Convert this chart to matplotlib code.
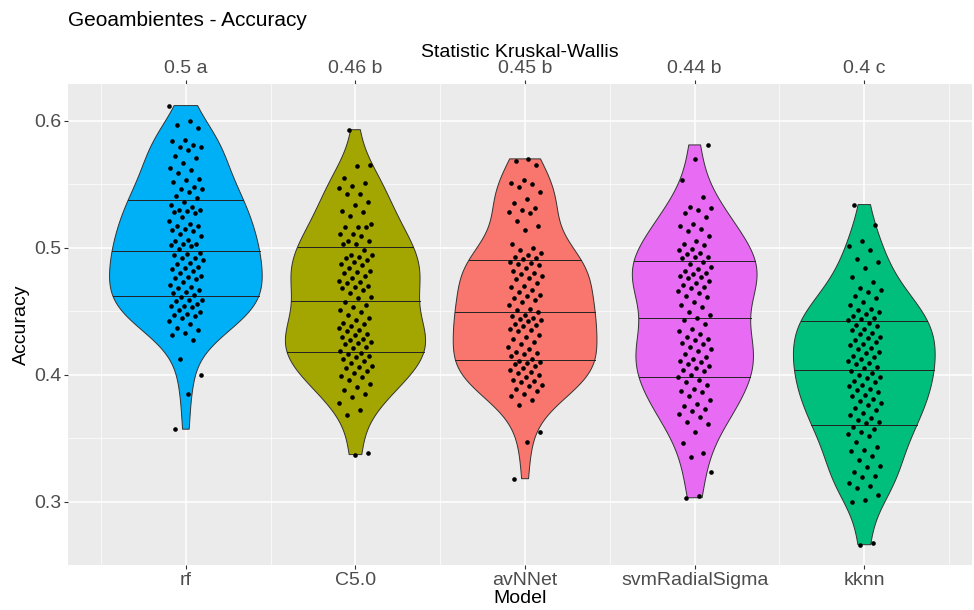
import numpy as np
import matplotlib.pyplot as plt
from matplotlib.ticker import FixedLocator

plt.rcParams['font.family'] = ['Liberation Sans', 'DejaVu Sans']

# 모델 / 색 / Kruskal-Wallis 라벨
models = ['rf', 'C5.0', 'avNNet', 'svmRadialSigma', 'kknn']
kw_labels = ['0.5 a', '0.46 b', '0.45 b', '0.44 b', '0.4 c']
colors = ['#00B0F6', '#A3A500', '#F8766D', '#E76BF3', '#00BF7D']

acc_rf = [0.612, 0.600, 0.597, 0.594, 0.585, 0.584, 0.581, 0.579, 0.579, 0.577,
          0.572, 0.571, 0.567, 0.563, 0.561, 0.559, 0.554, 0.553, 0.552, 0.548,
          0.546, 0.546, 0.544, 0.541, 0.539,
          0.536, 0.534, 0.532, 0.530, 0.530, 0.529, 0.528, 0.527, 0.524, 0.521,
          0.519, 0.517, 0.517, 0.515, 0.514, 0.513, 0.511, 0.509, 0.506, 0.505,
          0.503, 0.503, 0.502, 0.501, 0.499,
          0.496, 0.495, 0.494, 0.492, 0.492, 0.490, 0.488, 0.487, 0.485, 0.484,
          0.483, 0.482, 0.480, 0.478, 0.477, 0.476, 0.475, 0.473, 0.471, 0.469,
          0.468, 0.467, 0.465, 0.464, 0.463,
          0.461, 0.459, 0.459, 0.458, 0.456, 0.454, 0.454, 0.453, 0.451, 0.449,
          0.448, 0.447, 0.446, 0.445, 0.442, 0.440, 0.437, 0.435, 0.433, 0.431,
          0.427, 0.412, 0.400, 0.385, 0.357]

acc_c50 = [0.593, 0.565, 0.564, 0.555, 0.551, 0.549, 0.547, 0.542, 0.542, 0.536,
           0.534, 0.529, 0.528, 0.525, 0.519, 0.516, 0.516, 0.516, 0.511, 0.511,
           0.509, 0.505, 0.505, 0.503, 0.503,
           0.498, 0.494, 0.494, 0.493, 0.492, 0.490, 0.489, 0.487, 0.486, 0.484,
           0.482, 0.481, 0.480, 0.478, 0.476, 0.474, 0.473, 0.472, 0.470, 0.469,
           0.468, 0.467, 0.464, 0.461, 0.460,
           0.457, 0.455, 0.453, 0.451, 0.449, 0.447, 0.445, 0.443, 0.441, 0.440,
           0.438, 0.437, 0.435, 0.434, 0.432, 0.431, 0.430, 0.428, 0.427, 0.426,
           0.425, 0.424, 0.422, 0.421, 0.419,
           0.417, 0.416, 0.415, 0.414, 0.412, 0.411, 0.409, 0.407, 0.406, 0.405,
           0.403, 0.401, 0.399, 0.398, 0.396, 0.393, 0.390, 0.388, 0.385, 0.382,
           0.378, 0.372, 0.368, 0.338, 0.337]

acc_avnnet = [0.570, 0.568, 0.565, 0.553, 0.551, 0.550, 0.548, 0.544, 0.538, 0.535,
              0.531, 0.530, 0.528, 0.527, 0.521, 0.517, 0.514, 0.503, 0.500, 0.498,
              0.496, 0.494, 0.493, 0.492, 0.491,
              0.489, 0.488, 0.487, 0.486, 0.484, 0.482, 0.480, 0.479, 0.478, 0.476,
              0.475, 0.472, 0.470, 0.469, 0.467, 0.465, 0.463, 0.462, 0.460, 0.459,
              0.457, 0.455, 0.452, 0.451, 0.449,
              0.447, 0.446, 0.445, 0.444, 0.443, 0.442, 0.440, 0.439, 0.438, 0.436,
              0.435, 0.434, 0.431, 0.430, 0.428, 0.426, 0.424, 0.422, 0.420, 0.418,
              0.417, 0.416, 0.415, 0.412,
              0.411, 0.410, 0.409, 0.408, 0.407, 0.405, 0.404, 0.402, 0.401, 0.400,
              0.398, 0.396, 0.395, 0.394, 0.392, 0.391, 0.389, 0.387, 0.385, 0.383,
              0.380, 0.376, 0.355, 0.347, 0.318]

acc_svm = [0.581, 0.570, 0.553, 0.540, 0.532, 0.531, 0.530, 0.527, 0.524, 0.519,
           0.517, 0.515, 0.513, 0.509, 0.505, 0.503, 0.502, 0.499, 0.498, 0.496,
           0.495, 0.493, 0.493, 0.492, 0.489,
           0.487, 0.485, 0.483, 0.482, 0.480, 0.479, 0.478, 0.477, 0.476, 0.474,
           0.472, 0.471, 0.469, 0.468, 0.466, 0.464, 0.462, 0.461, 0.457, 0.455,
           0.453, 0.449, 0.447, 0.445,
           0.443, 0.440, 0.436, 0.434, 0.432, 0.430, 0.428, 0.427, 0.425, 0.424,
           0.422, 0.420, 0.419, 0.416, 0.414, 0.412, 0.411, 0.410, 0.408, 0.407,
           0.405, 0.404, 0.403, 0.400,
           0.398, 0.396, 0.394, 0.392, 0.389, 0.387, 0.386, 0.383, 0.380, 0.377,
           0.375, 0.373, 0.371, 0.369, 0.367, 0.363, 0.361, 0.355, 0.346, 0.338,
           0.335, 0.323, 0.304, 0.303]

acc_kknn = [0.534, 0.518, 0.505, 0.501, 0.498, 0.491, 0.489, 0.484, 0.477, 0.473,
            0.468, 0.467, 0.465, 0.462, 0.460, 0.457, 0.455, 0.452, 0.451, 0.449,
            0.448, 0.446, 0.445, 0.444, 0.443,
            0.441, 0.439, 0.438, 0.436, 0.435, 0.433, 0.432, 0.430, 0.429, 0.427,
            0.426, 0.424, 0.423, 0.421, 0.420, 0.418, 0.417, 0.415, 0.414, 0.412,
            0.411, 0.409, 0.408, 0.406, 0.405,
            0.403, 0.401, 0.400, 0.398, 0.397, 0.395, 0.394, 0.392, 0.391, 0.389,
            0.388, 0.386, 0.384, 0.383, 0.381, 0.379, 0.378, 0.376, 0.374, 0.372,
            0.370, 0.368, 0.366, 0.364, 0.363,
            0.362, 0.359, 0.357, 0.355, 0.353, 0.352, 0.347, 0.343, 0.341, 0.340,
            0.336, 0.333, 0.328, 0.327, 0.323, 0.320, 0.319, 0.315, 0.312, 0.311,
            0.305, 0.301, 0.300, 0.267, 0.266]

all_acc = [acc_rf, acc_c50, acc_avnnet, acc_svm, acc_kknn]


def kde_r(vals, n=512):
    # R density() 와 같은 nrd0 대역폭, 데이터 범위로 trim
    v = np.asarray(vals)
    q75, q25 = np.percentile(v, [75, 25])
    bw = 0.9 * min(v.std(ddof=1), (q75 - q25) / 1.34) * len(v) ** (-0.2)
    grid = np.linspace(v.min(), v.max(), n)
    dens = np.exp(-0.5 * ((grid[:, None] - v[None, :]) / bw) ** 2).sum(axis=1)
    dens /= len(v) * bw * np.sqrt(2 * np.pi)
    return grid, dens


kdes = [kde_r(a) for a in all_acc]
max_dens = max(d.max() for _, d in kdes)   # scale = "area"

fig = plt.figure(figsize=(9.74, 6.10), dpi=100)
ax = fig.add_axes([68 / 974, 1 - 565 / 610, 904 / 974, 481 / 610])
ax.set_facecolor('#EBEBEB')
for s in ax.spines.values():
    s.set_visible(False)

pos = np.arange(1, len(models) + 1)
for i, (grid, dens) in enumerate(kdes):
    w = dens / max_dens * 0.45
    xs = np.concatenate([pos[i] - w, (pos[i] + w)[::-1]])
    ys = np.concatenate([grid, grid[::-1]])
    ax.fill(xs, ys, facecolor=colors[i], edgecolor='#333333', linewidth=0.7, zorder=2)
    # 분위수 선 (density 누적 기준)
    cdf = np.cumsum(dens) / dens.sum()
    for q in [0.25, 0.5, 0.75]:
        yq = np.interp(q, cdf, grid)
        wq = np.interp(yq, grid, w)
        ax.plot([pos[i] - wq, pos[i] + wq], [yq, yq], color='#222222', lw=0.7, zorder=3)
    # 지터 (결정적)
    k = np.arange(len(all_acc[i]))
    jit = ((k * 0.6180339887 + 0.3 * i) % 1 - 0.5) * 0.20
    ax.scatter(pos[i] + jit, all_acc[i], s=11, color='black', zorder=4, linewidths=0)

ax.set_xlim(0.305, 5.635)
ax.set_ylim(0.250, 0.629)
ax.set_xticks(pos)
ax.set_xticklabels(models)
ax.xaxis.set_minor_locator(FixedLocator([0.5, 1.5, 2.5, 3.5, 4.5, 5.5]))
ax.set_yticks([0.3, 0.4, 0.5, 0.6])
ax.set_yticklabels(['0.3', '0.4', '0.5', '0.6'])
ax.yaxis.set_minor_locator(FixedLocator([0.25, 0.35, 0.45, 0.55]))
ax.grid(True, which='major', color='white', lw=1.1, zorder=0)
ax.grid(True, which='minor', color='white', lw=0.5, zorder=0)
ax.set_axisbelow(True)
ax.tick_params(which='major', length=3, width=0.8, color='#333333',
               labelsize=14, labelcolor='#4D4D4D', pad=2)
ax.tick_params(which='minor', length=0)
ax.set_xlabel('Model', fontsize=14, labelpad=1)
ax.set_ylabel('Accuracy', fontsize=14, labelpad=3)

top = ax.secondary_xaxis('top')
top.set_xticks(pos)
top.set_xticklabels(kw_labels)
top.tick_params(length=3, width=0.8, color='#333333', labelsize=14,
                labelcolor='#4D4D4D', pad=2)
top.spines['top'].set_visible(False)
top.set_xlabel('Statistic Kruskal-Wallis', fontsize=14, labelpad=2)

fig.text(68 / 974, 1 - 20 / 610, 'Geoambientes - Accuracy', fontsize=15,
         va='center', ha='left')

plt.savefig('out.png', dpi=100)
